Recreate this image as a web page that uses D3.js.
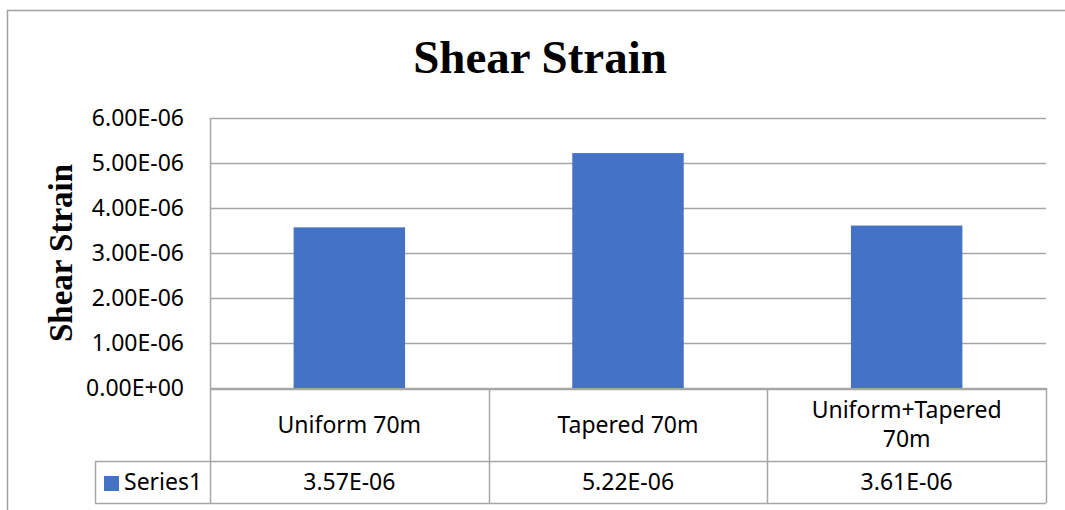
<!DOCTYPE html>
<html>
<head>
<meta charset="utf-8">
<script src="https://cdn.jsdelivr.net/npm/d3@7"></script>
<style>
  body { margin: 0; background: #fff; }
  svg text { fill: #000; }
</style>
</head>
<body>
<svg id="chart" width="1065" height="510"></svg>
<script>
// chart data
const categories = ["Uniform 70m", "Tapered 70m", "Uniform+Tapered 70m"];
const categoryLines = [["Uniform 70m"], ["Tapered 70m"], ["Uniform+Tapered", "70m"]];
const series1 = [3.57e-6, 5.22e-6, 3.61e-6];
const seriesLabels = ["3.57E-06", "5.22E-06", "3.61E-06"];
const tickValues = [0, 1e-6, 2e-6, 3e-6, 4e-6, 5e-6, 6e-6];
const tickLabels = ["0.00E+00", "1.00E-06", "2.00E-06", "3.00E-06", "4.00E-06", "5.00E-06", "6.00E-06"];

const svg = d3.select("#chart");
const sans = "'Noto Sans', 'Open Sans', sans-serif";
const serif = "'Liberation Serif', 'DejaVu Serif', serif";
const lineColor = "#a6a6a6";
const barColor = "#4472c4";
const fs = "23px";

const plot = { left: 210, right: 1046, top: 118, bottom: 388 };
const rowCat = 461, rowEnd = 503, legendLeft = 95;

// outer chart border
svg.append("rect")
  .attr("x", 7.5).attr("y", 10.5)
  .attr("width", 1070).attr("height", 520)
  .attr("fill", "none").attr("stroke", "#a0a0a0").attr("stroke-width", 1.5);

const x = d3.scaleBand().domain(categories)
  .range([plot.left, plot.right]).paddingInner(0.6).paddingOuter(0.3);
const xCol = d3.scaleBand().domain(categories).range([plot.left, plot.right]);
const y = d3.scaleLinear().domain([0, 6e-6]).range([plot.bottom, plot.top]);

// gridlines
svg.append("g").selectAll("line").data(tickValues).join("line")
  .attr("x1", plot.left).attr("x2", plot.right)
  .attr("y1", d => Math.round(y(d)) + 0.5).attr("y2", d => Math.round(y(d)) + 0.5)
  .attr("stroke", lineColor).attr("stroke-width", 1.5);

// tick labels
svg.append("g").selectAll("text").data(tickValues).join("text")
  .attr("x", 184).attr("y", d => y(d))
  .attr("dy", "0.36em")
  .attr("text-anchor", "end")
  .style("font-family", sans).style("font-size", fs)
  .text((d, i) => tickLabels[i]);

// bars
svg.append("g").selectAll("rect").data(series1).join("rect")
  .attr("x", (d, i) => x(categories[i]))
  .attr("width", x.bandwidth())
  .attr("y", d => y(d))
  .attr("height", d => y(0) - y(d))
  .attr("fill", barColor);

// data table
const tbl = svg.append("g").attr("stroke", lineColor).attr("stroke-width", 1.5);
tbl.append("line").attr("x1", plot.left + 0.5).attr("x2", plot.left + 0.5).attr("y1", plot.top).attr("y2", rowEnd);
categories.forEach(c => {
  const xr = Math.round(xCol(c) + xCol.bandwidth()) + 0.5;
  tbl.append("line").attr("x1", xr).attr("x2", xr).attr("y1", plot.bottom).attr("y2", rowEnd);
});
tbl.append("line").attr("x1", plot.left).attr("x2", plot.right).attr("y1", plot.bottom + 1.5).attr("y2", plot.bottom + 1.5);
tbl.append("line").attr("x1", legendLeft).attr("x2", plot.right).attr("y1", rowCat + 0.5).attr("y2", rowCat + 0.5);
tbl.append("line").attr("x1", legendLeft).attr("x2", plot.right).attr("y1", rowEnd + 0.5).attr("y2", rowEnd + 0.5);
tbl.append("line").attr("x1", legendLeft + 0.5).attr("x2", legendLeft + 0.5).attr("y1", rowCat).attr("y2", rowEnd);

// category labels
categories.forEach((c, i) => {
  const lines = categoryLines[i];
  const cx = xCol(c) + xCol.bandwidth() / 2;
  const mid = (plot.bottom + rowCat) / 2;
  const lh = 29;
  lines.forEach((t, j) => {
    svg.append("text")
      .attr("x", cx)
      .attr("y", mid + (j - (lines.length - 1) / 2) * lh)
      .attr("dy", "0.36em")
      .attr("text-anchor", "middle")
      .style("font-family", sans).style("font-size", fs)
      .text(t);
  });
  svg.append("text")
    .attr("x", cx).attr("y", (rowCat + rowEnd) / 2)
    .attr("dy", "0.36em").attr("text-anchor", "middle")
    .style("font-family", sans).style("font-size", fs)
    .text(seriesLabels[i]);
});

// legend key
svg.append("rect").attr("x", 104).attr("y", 476).attr("width", 15).attr("height", 15).attr("fill", barColor);
svg.append("text").attr("x", 124).attr("y", (rowCat + rowEnd) / 2)
  .attr("dy", "0.36em")
  .style("font-family", sans).style("font-size", fs)
  .text("Series1");

// title
svg.append("text")
  .attr("x", 540).attr("y", 73)
  .attr("text-anchor", "middle")
  .style("font-family", serif).style("font-size", "47px").style("font-weight", "bold")
  .text("Shear Strain");

// y axis title
svg.append("text")
  .attr("transform", "translate(72,253) rotate(-90)")
  .attr("text-anchor", "middle")
  .style("font-family", serif).style("font-size", "33px").style("font-weight", "bold")
  .text("Shear Strain");
</script>
</body>
</html>
